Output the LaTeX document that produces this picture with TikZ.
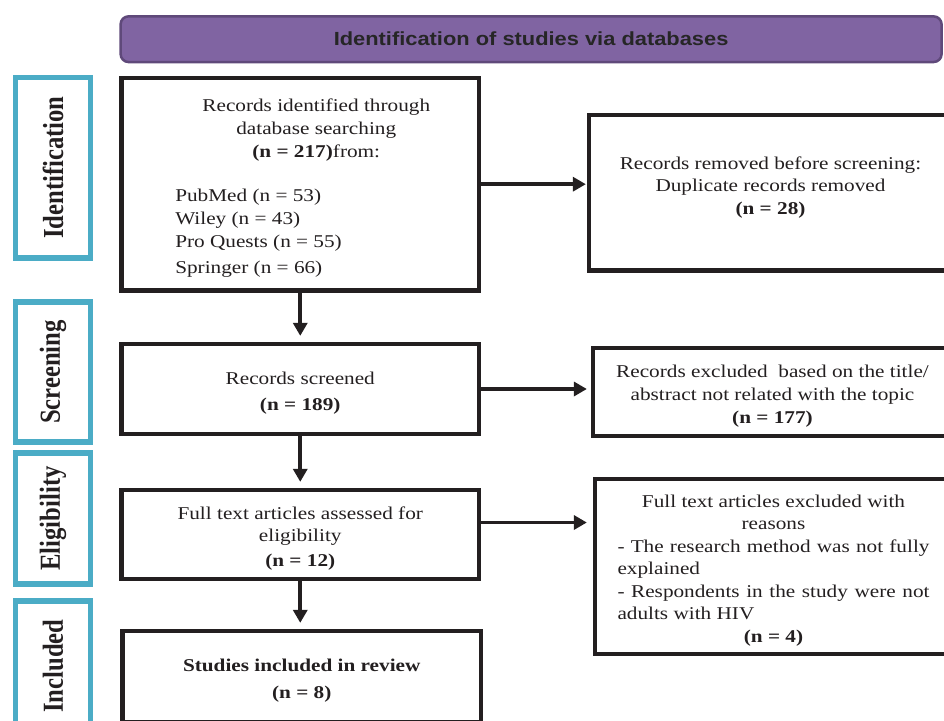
\documentclass[tikz,border=0pt]{standalone}
\usepackage{fontspec}
\setmainfont{Liberation Serif}[FakeStretch=1.18]
\newfontfamily\sidefont{Liberation Serif}[FakeStretch=0.85]
\newfontfamily\bannerfont{Liberation Sans}[FakeStretch=1.15]
\usetikzlibrary{
  arrows.meta,
  calc
}
\definecolor{prPurple}{HTML}{8064A2}
\definecolor{prPurpleDark}{HTML}{5F497A}
\definecolor{prBlue}{HTML}{4BACC6}
\definecolor{prInk}{HTML}{231F20}
\definecolor{prHead}{HTML}{262626}
\newcommand{\boxtext}[3][-4pt]{\raisebox{#1}[\height][\depth]{\parbox{#2}{\centering #3}}}
\tikzset{
  prbox/.style={
    draw=prInk, line width=4.3pt, fill=white, inner sep=0pt,
    font=\fontsize{18}{22.5}\selectfont, text=prInk
  },
  sidebox/.style={
    draw=prBlue, line width=5.6pt, fill=white, inner sep=0pt, rotate=90,
    minimum height=75pt, text=prInk,
    font=\sidefont\bfseries\fontsize{29}{30}\selectfont
  },
  banner/.style={
    draw=prPurpleDark, line width=2.5pt, fill=prPurple, rounded corners=8pt,
    inner sep=0pt, text=prHead, font=\bannerfont\bfseries\fontsize{19}{20}\selectfont
  },
  flow/.style={-{Triangle[length=13pt,width=14pt]}, line width=3.6pt, prInk, shorten >=6pt}
}

\begin{document}
\begin{tikzpicture}[x=1pt,y=-1pt]
  \useasboundingbox (0,0) rectangle (944,720);
  \node[banner, minimum width=821pt, minimum height=45.7pt] (banner) at (531.1,39.2) {Identification of studies via databases};
  \node[sidebox, minimum width=180.7pt] (idlab) at (53,167.7) {Identification};
  \node[sidebox, minimum width=140pt] (scrlab) at (53,372) {Screening};
  \node[sidebox, minimum width=131pt] (eliglab) at (53,518.5) {Eligibility};
  \node[sidebox, minimum width=130pt] (inclab) at (53,666) {Included};
  \node[prbox, minimum width=357.5pt, minimum height=212.3pt] (rec) at (300.25,184.2)
    {\raisebox{-4pt}[\height][\depth]{\hspace*{32pt}\parbox{282pt}{\fontsize{18}{23}\selectfont\centering Records identified through\\ database searching\\ \textbf{(n = 217)}from:\par\vspace{21pt}\raggedright PubMed (n = 53)\\ Wiley (n = 43)\\ Pro Quests (n = 55)\\[3pt] Springer (n = 66)}}};
  \node[prbox, minimum width=357.5pt, minimum height=90pt] (scr) at (300.25,389) {\boxtext{340pt}{Records screened\\[4pt] \textbf{(n = 189)}}};
  \node[prbox, minimum width=357.5pt, minimum height=89pt] (elig) at (300.25,534.5) {\boxtext{340pt}{Full text articles assessed for\\ eligibility\\[2.5pt] \textbf{(n = 12)}}};
  \node[prbox, minimum width=358.5pt, minimum height=91pt] (incl) at (301.75,676.5) {\boxtext{340pt}{\textbf{Studies included in review}\\[4.5pt] \textbf{(n = 8)}}};
  \node[prbox, minimum width=363pt, minimum height=155.5pt] (rem) at (770.5,192.8)
    {\boxtext[5pt]{340pt}{Records removed before screening:\\[-1pt] Duplicate records removed\\[0.5pt] \textbf{(n = 28)}}};
  \node[prbox, minimum width=359pt, minimum height=88pt] (scrx) at (772.5,392) {\boxtext{340pt}{Records excluded\ \ based on the title/\\[0.5pt] abstract not related with the topic\\[0.5pt] \textbf{(n = 177)}}};
  \node[prbox, minimum width=357pt, minimum height=175pt] (eligx) at (773.5,566.5)
    {\boxtext{312pt}{Full text articles excluded with\\ reasons\\ \makebox[\linewidth][s]{- The research method was not fully}\\ \makebox[\linewidth][l]{explained}\\ \makebox[\linewidth][s]{- Respondents in the study were not}\\ \makebox[\linewidth][l]{adults with HIV}\\ \textbf{(n = 4)}}};
  \draw[flow] (rec.south) -- (rec.south |- scr.north);
  \draw[flow] (scr.south) -- (scr.south |- elig.north);
  \draw[flow] (elig.south) -- (elig.south |- incl.north);
  \draw[flow, shorten >=1pt] (rec.east) -- (rec.east -| rem.west);
  \draw[flow, shorten >=4pt] (scr.east) -- (scr.east -| scrx.west);
  \draw[flow] ([yshift=12pt]elig.east) -- ([yshift=12pt]elig.east -| eligx.west);
\end{tikzpicture}
\end{document}
